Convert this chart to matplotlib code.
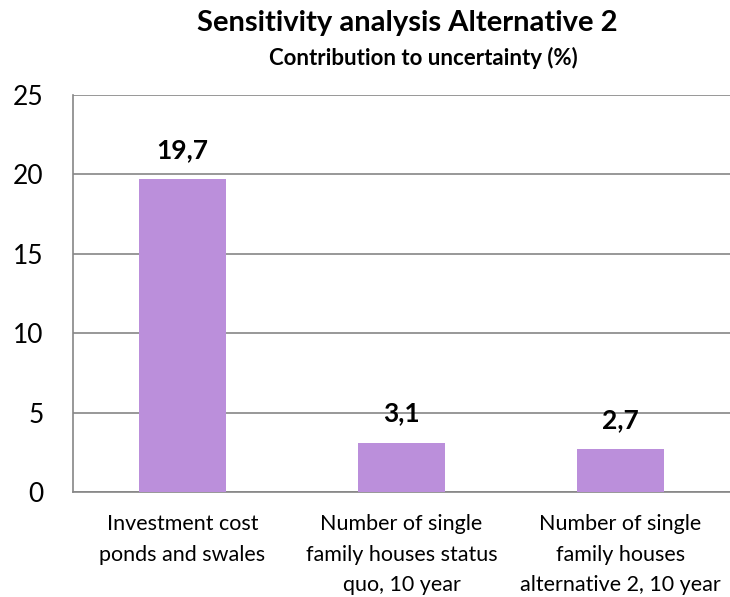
import matplotlib.pyplot as plt

categories = ["Investment cost\nponds and swales",
              "Number of single\nfamily houses status\nquo, 10 year",
              "Number of single\nfamily houses\nalternative 2, 10 year"]
values = [19.7, 3.1, 2.7]
value_labels = ["19,7", "3,1", "2,7"]
yticks = [0, 5, 10, 15, 20, 25]

plt.rcParams['font.family'] = ['Lato', 'DejaVu Sans']

fig = plt.figure(figsize=(7.3, 5.97), dpi=100)
ax = fig.add_axes([0.1, 0.176, 0.9, 0.665])

x = range(len(categories))
ax.bar(x, values, width=0.4, color="#bb8fdb", zorder=3)
for xi, v, lab in zip(x, values, value_labels):
    ax.text(xi, v + 1.85, lab, ha="center", va="center", fontsize=19, fontweight="bold")

ax.set_xlim(-0.5, 2.5)
ax.set_ylim(0, 25)
ax.set_yticks(yticks)
ax.set_yticklabels([str(t) for t in yticks], fontsize=19)
ax.set_xticks(list(x))
ax.set_xticklabels(categories, fontsize=15.5, linespacing=1.65)
ax.tick_params(axis="y", length=0, pad=21)
ax.tick_params(axis="x", length=0, pad=16)
ax.grid(axis="y", color="#868686", linewidth=1.2, zorder=0)
for s in ["top", "right"]:
    ax.spines[s].set_visible(False)
ax.spines["left"].set_color("#868686")
ax.spines["bottom"].set_color("#868686")
ax.spines["left"].set_linewidth(1.2)
ax.spines["bottom"].set_linewidth(1.2)

fig.text(407 / 730, 1 - 23 / 597, "Sensitivity analysis Alternative 2", ha="center", va="center",
         fontsize=21, fontweight="bold")
fig.text(423 / 730, 1 - 58 / 597, "Contribution to uncertainty (%)", ha="center", va="center",
         fontsize=16, fontweight="bold")

fig.savefig("out.png", dpi=100)
